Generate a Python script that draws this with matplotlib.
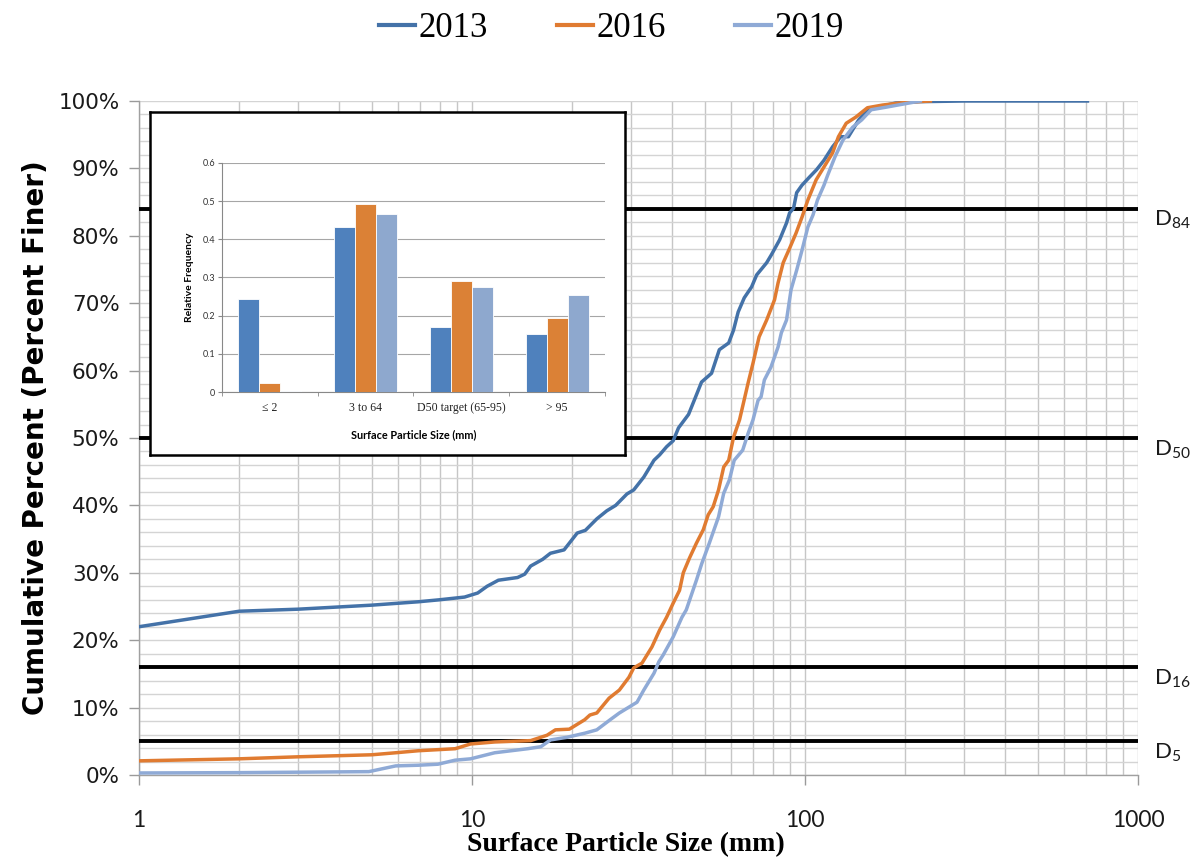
import matplotlib
matplotlib.use("Agg")
import matplotlib.pyplot as plt
from matplotlib.ticker import FixedLocator, FuncFormatter, NullFormatter
import numpy as np

# ---------------- data ----------------
years = ["2013", "2016", "2019"]

x2013 = [1, 2, 3, 5, 6.9, 8, 9.5, 10.4, 11.1, 12, 13.7, 14.4, 15, 16.3, 17.2, 18.9,
         20.7, 21.9, 23.7, 25.4, 27, 29.2, 30.6, 32.8, 35.2, 36.6, 38.4, 40.2, 41.7,
         44.7, 47.2, 48.9, 52.4, 55.3, 59, 61, 63, 65.7, 69.1, 71.6, 76.7, 79.3, 83.9,
         88, 89.9, 92.4, 94.4, 97.9, 103.1, 108.3, 114, 121, 128, 135, 145, 154, 166,
         187, 220, 300, 705]
p2013 = [22.0, 24.3, 24.6, 25.2, 25.7, 26.0, 26.4, 27.0, 28.0, 28.9, 29.3, 29.8, 31.0,
         32.0, 32.9, 33.4, 35.9, 36.3, 38.0, 39.2, 40.0, 41.7, 42.3, 44.2, 46.7, 47.5,
         48.7, 49.6, 51.5, 53.5, 56.4, 58.3, 59.6, 63.1, 64.1, 66.0, 68.7, 70.8, 72.4,
         74.2, 76.0, 77.2, 79.4, 81.9, 83.4, 84.1, 86.4, 87.5, 88.7, 89.8, 91.2, 93.2,
         94.7, 94.7, 97.2, 98.7, 99.1, 99.7, 99.9, 100, 100]

x2016 = [1, 2, 3, 5, 5.9, 6.9, 8.9, 9.9, 11.7, 15, 16.8, 17.8, 19.6, 21.8, 22.6, 23.7,
         25.8, 27.7, 29.6, 30.6, 32.4, 34.7, 36.6, 38.4, 40.2, 42, 43.1, 45, 47.2, 49.5,
         51.2, 53, 55, 57, 59, 61, 63.6, 67.5, 69.8, 72.8, 76.7, 81, 83, 86, 90, 94, 98,
         102, 108, 114, 121, 126, 133, 142, 154, 171, 200, 238]
p2016 = [2.1, 2.4, 2.7, 3.0, 3.3, 3.6, 3.9, 4.6, 4.9, 5.1, 5.9, 6.7, 6.8, 8.2, 8.9, 9.2,
         11.4, 12.6, 14.5, 15.9, 16.6, 19.0, 21.5, 23.4, 25.5, 27.4, 30.0, 32.2, 34.4,
         36.4, 38.6, 39.8, 42.3, 45.7, 46.7, 50.1, 52.7, 58.2, 61.1, 65.0, 67.5, 70.5,
         73.0, 76.0, 78.2, 80.4, 82.8, 85.3, 88.3, 90.2, 92.3, 94.7, 96.7, 97.6, 99.0,
         99.4, 99.8, 100]

x2019 = [1, 2, 3.7, 4.9, 5.9, 6.9, 7.9, 8.9, 9.9, 11.7, 14.7, 16.1, 17.2, 19.3, 21.8,
         23.7, 26, 27.7, 31.3, 32.8, 35.2, 36.4, 37.5, 40.2, 42.7, 44, 47.2, 49, 51.6,
         55, 57, 59.3, 61.3, 65, 67.5, 69.8, 72.3, 73.8, 75.5, 79, 83, 84.9, 88, 90.8,
         94.4, 98, 102, 105.7, 109, 114, 117, 123, 130, 139, 148, 158, 176, 190, 222]
p2019 = [0.3, 0.35, 0.45, 0.5, 1.35, 1.45, 1.6, 2.2, 2.4, 3.3, 3.9, 4.2, 5.2, 5.6, 6.2,
         6.7, 8.2, 9.2, 10.8, 12.6, 15.1, 16.8, 17.8, 20.5, 23.4, 24.5, 28.9, 31.4, 34.4,
         38.3, 41.8, 43.8, 46.7, 48.2, 50.7, 52.7, 55.6, 56.1, 58.6, 60.5, 63.5, 65.6,
         67.5, 72.0, 74.9, 77.9, 81.3, 83.1, 85.3, 87.5, 89.0, 91.7, 94.2, 96.1, 97.2,
         98.7, 99.1, 99.4, 100]

d_values = [84, 50, 16, 5]
d_labels = ["84", "50", "16", "5"]

bar_categories = ["\u2264 2", "3 to 64", "D50 target (65-95)", "> 95"]
bar2013 = [0.243, 0.432, 0.171, 0.152]
bar2016 = [0.023, 0.493, 0.290, 0.194]
bar2019 = [0.002, 0.466, 0.276, 0.255]

x_ticks = [1, 10, 100, 1000]
x_tick_labels = ["1", "10", "100", "1000"]

# ---------------- style ----------------
line_colors = ["#4472A8", "#E07B31", "#8FAAD6"]
bar_colors = ["#4F81BD", "#DB8136", "#8EA8CE"]

fig = plt.figure(figsize=(11.96, 8.63), dpi=100)
ax = fig.add_axes([139 / 1196, 1 - 775 / 863, 999 / 1196, 674 / 863])

ax.set_xscale("log")
ax.set_xlim(1, 1000)
ax.set_ylim(0, 100)

# grid
ax.xaxis.set_major_locator(FixedLocator(x_ticks))
minor_x = [m * 10 ** e for e in range(0, 3) for m in range(2, 10)]
ax.xaxis.set_minor_locator(FixedLocator(minor_x))
ax.xaxis.set_minor_formatter(NullFormatter())
ax.set_xticklabels(x_tick_labels, family="Lato", fontsize=16.5, color="#1a1a1a")
ax.yaxis.set_major_locator(FixedLocator(np.arange(0, 101, 10)))
ax.yaxis.set_minor_locator(FixedLocator(np.arange(0, 101, 2)))
ax.yaxis.set_major_formatter(FuncFormatter(lambda v, p: f"{v:.0f}%"))
for lab in ax.get_yticklabels():
    lab.set_family("DejaVu Sans")
ax.tick_params(axis="y", which="major", labelsize=15.5, length=7, width=1,
               color="#9a9a9a", pad=7, labelcolor="#1a1a1a")
ax.tick_params(axis="y", which="minor", length=0)
ax.tick_params(axis="x", which="major", length=7, width=1, color="#9a9a9a",
               pad=18)
ax.tick_params(axis="x", which="minor", length=0)
ax.grid(True, which="both", axis="x", color="#c6c6c6", lw=1.0, zorder=0)
ax.grid(True, which="both", axis="y", color="#d4d4d4", lw=1.0, zorder=0)
ax.set_axisbelow(True)

for s in ["top", "right"]:
    ax.spines[s].set_visible(False)
for s in ["left", "bottom"]:
    ax.spines[s].set_color("#a0a0a0")
    ax.spines[s].set_linewidth(1.0)

# D lines
for v, t in zip(d_values, d_labels):
    ax.axhline(v, color="black", lw=2.8, zorder=3)
    ax.text(1.016, (v - 1.7) / 100, r"$\mathregular{D_{%s}}$" % t, transform=ax.transAxes,
            fontsize=16, family="Lato", va="center", ha="left", color="#1a1a1a")

# curves
for xs, ps, c, lab in zip([x2013, x2016, x2019], [p2013, p2016, p2019], line_colors, years):
    ax.plot(xs, ps, color=c, lw=2.5, label=lab, zorder=4, solid_joinstyle="round")

ax.set_xlabel("Surface Particle Size (mm)", family="Liberation Serif", fontweight="bold",
              fontsize=20, labelpad=2)
ax.xaxis.set_label_coords(0.487, -0.085)
ax.set_ylabel("Cumulative Percent (Percent Finer)", family="DejaVu Sans", fontweight="bold",
              fontsize=20, labelpad=6)

handles, labels = ax.get_legend_handles_labels()
fig.legend(handles, labels, loc="upper center", bbox_to_anchor=(0.511, 1.022), ncol=3,
           frameon=False, prop={"family": "Liberation Serif", "size": 25},
           handlelength=1.05, handletextpad=0.08, columnspacing=2.0)
for h in fig.legends[0].get_lines():
    h.set_linewidth(3)

# ---------------- inset ----------------
box = fig.add_axes([150 / 1196, 1 - 455 / 863, 475 / 1196, 343 / 863])
box.set_xticks([])
box.set_yticks([])
box.set_facecolor("white")
for s in box.spines.values():
    s.set_linewidth(1.8)
    s.set_color("black")
box.set_zorder(5)

ins = fig.add_axes([222 / 1196, 1 - 392 / 863, 383 / 1196, 229 / 863])
ins.set_zorder(6)
ins.set_facecolor("none")
idx = np.arange(len(bar_categories))
bw = 0.22
for k, (vals, c) in enumerate(zip([bar2013, bar2016, bar2019], bar_colors)):
    ins.bar(idx + (k - 1) * bw, vals, width=bw, color=c, edgecolor="white", lw=0.6,
            zorder=3)
ins.set_xlim(-0.5, len(bar_categories) - 0.5)
ins.set_ylim(0, 0.6)
ins.set_yticks(np.arange(0, 0.61, 0.1))
ins.set_yticklabels(["0", "0.1", "0.2", "0.3", "0.4", "0.5", "0.6"], family="Lato",
                    fontsize=6.5, color="#333333")
ins.set_xticks(idx)
ins.set_xticklabels(bar_categories, family=["Liberation Serif", "DejaVu Serif"],
                    fontsize=8.5, color="#222222")
ins.set_xticks(np.arange(-0.5, len(bar_categories), 1), minor=True)
ins.tick_params(axis="x", which="major", length=0, pad=7)
ins.tick_params(axis="x", which="minor", length=3, color="#888888")
ins.tick_params(axis="y", length=3, color="#888888", pad=2)
ins.grid(True, axis="y", color="#a6a6a6", lw=0.8, zorder=0)
ins.set_axisbelow(True)
for s in ["top", "right"]:
    ins.spines[s].set_visible(False)
for s in ["left", "bottom"]:
    ins.spines[s].set_color("#888888")
    ins.spines[s].set_linewidth(0.8)
ins.set_ylabel("Relative Frequency", family="Lato", fontweight="bold", fontsize=7.5,
               labelpad=6)
ins.set_xlabel("Surface Particle Size (mm)", family="Lato", fontweight="bold",
               fontsize=7.8, labelpad=11)

fig.savefig("out.png", dpi=100, facecolor="white")
